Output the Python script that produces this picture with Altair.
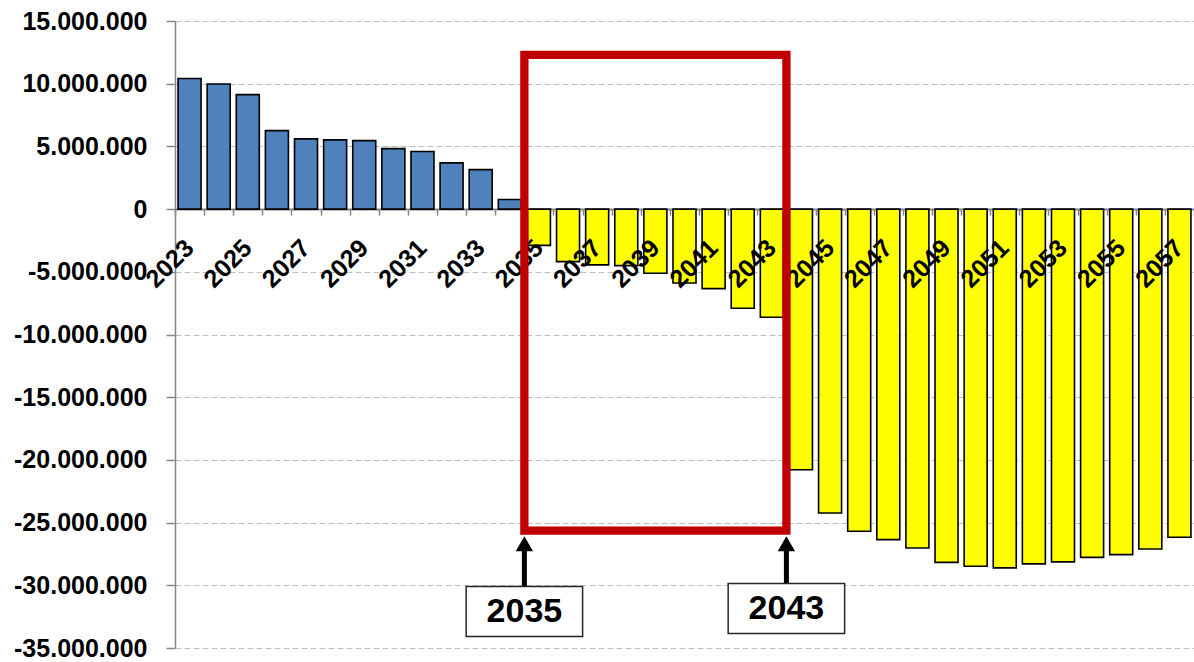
import altair as alt
import pandas as pd

# ---------------- data ----------------
years = [str(y) for y in range(2023, 2058)]
balance = [
    10410000, 9980000, 9130000, 6260000, 5600000, 5520000, 5460000, 4820000,
    4590000, 3690000, 3150000, 760000,
    -2890000, -4190000, -4450000, -4510000, -5120000, -5890000, -6340000,
    -7910000, -8630000,
    -20780000, -24230000, -25690000, -26360000, -27020000, -28170000,
    -28480000, -28610000, -28290000, -28130000, -27770000, -27550000,
    -27100000, -26170000,
]
label_years = [str(y) for y in range(2023, 2058, 2)]
y_ticks = list(range(-35000000, 15000001, 5000000))
y_min, y_max = -35000000, 15000000

# highlighted period (red frame)
frame_from = ["2035"]
frame_to = ["2043"]
frame_top = [12300000]
frame_bottom = [-25640000]

# arrows and call-out boxes
arrow_at = ["2035", "2044"]
arrow_head = [-26690000, -26690000]
arrow_shaft_top = [-27000000, -27000000]
callout_text = ["2035", "2043"]
callout_from = ["2033", "2042"]
callout_to = ["2036", "2045"]
callout_top = [-30100000, -29860000]
callout_bottom = [-34090000, -33850000]
callout_mid = [-32100000, -31860000]

# ---------------- tables ----------------
bars_df = pd.DataFrame({"year": years, "value": balance})
labels_df = pd.DataFrame({"year": label_years, "base": [0] * len(label_years)})
frame_df = pd.DataFrame({"x1": frame_from, "x2": frame_to, "top": frame_top, "bottom": frame_bottom})
arrow_df = pd.DataFrame({"x": arrow_at, "head": arrow_head, "shaft_top": arrow_shaft_top, "base": callout_top})
callout_df = pd.DataFrame({
    "text": callout_text, "x": arrow_at, "x1": callout_from, "x2": callout_to,
    "top": callout_top, "bottom": callout_bottom, "mid": callout_mid,
})

W, H = 1019, 627
FONT = "Liberation Sans"
GRAY = "#868686"

x_scale = alt.Scale(type="band", domain=years, paddingInner=0, paddingOuter=0)
y_scale = alt.Scale(domain=[y_min, y_max], nice=False, zero=False)
zero_offset = -H * (0 - y_min) / (y_max - y_min)

label_expr = "replace(replace(format(datum.value, ','), regexp(',', 'g'), '.'), '\u2212', '-')"

x_axis = alt.Axis(labels=False, ticks=True, tickBand="extent", tickSize=6,
                  tickColor=GRAY, tickWidth=1.5, domainColor=GRAY, domainWidth=2,
                  offset=zero_offset, grid=False, title=None)
y_axis = alt.Axis(values=y_ticks, labelExpr=label_expr, grid=True,
                  gridDash=[6, 3], gridColor="#BFBFBF", gridWidth=1.2,
                  domainColor=GRAY, domainWidth=1.5, tickColor=GRAY, tickWidth=1.5,
                  tickSize=9, labelPadding=19, labelFont=FONT, labelFontSize=25,
                  labelFontWeight="bold", labelColor="black", title=None)


def X(field, **kw):
    return alt.X(field, scale=x_scale, axis=x_axis, title=None, **kw)


def Y(field):
    return alt.Y(field, scale=y_scale, axis=y_axis, title=None)


bars = alt.Chart(bars_df).mark_bar(
    width=alt.RelativeBandSize(0.79), stroke="black", strokeWidth=1.6
).encode(
    x=X("year:O"),
    y=Y("value:Q"),
    color=alt.condition("datum.value >= 0", alt.value("#4F81BD"), alt.value("#FFFF00")),
)

xlabels = alt.Chart(labels_df).mark_text(
    angle=315, align="right", baseline="middle", font=FONT, fontSize=25,
    fontWeight="bold", color="black", dx=-24.7, dy=24.7,
).encode(
    x=X("year:O"),
    y=Y("base:Q"),
    text="year:N",
)

frame = alt.Chart(frame_df).mark_rect(
    fillOpacity=0, stroke="#C00000", strokeWidth=8.3
).encode(
    x=X("x1:O", bandPosition=0),
    x2=alt.X2("x2", bandPosition=1),
    y=Y("top:Q"),
    y2="bottom:Q",
)

shafts = alt.Chart(arrow_df).mark_rule(color="black", strokeWidth=5).encode(
    x=X("x:O", bandPosition=0),
    y=Y("shaft_top:Q"),
    y2="base:Q",
)

heads = alt.Chart(arrow_df).mark_point(
    shape="triangle-up", filled=True, color="black", opacity=1, size=300
).encode(
    x=X("x:O", bandPosition=0),
    y=Y("head:Q"),
)

boxes = alt.Chart(callout_df).mark_rect(
    fill="white", stroke="#262626", strokeWidth=1.5
).encode(
    x=X("x1:O", bandPosition=0),
    x2=alt.X2("x2", bandPosition=1),
    y=Y("top:Q"),
    y2="bottom:Q",
)

box_text = alt.Chart(callout_df).mark_text(
    font=FONT, fontSize=34, fontWeight="bold", color="black",
    align="center", baseline="middle",
).encode(
    x=X("x:O", bandPosition=0),
    y=Y("mid:Q"),
    text="text:N",
)

chart = alt.layer(bars, xlabels, frame, shafts, heads, boxes, box_text).properties(
    width=W, height=H,
    autosize=alt.AutoSizeParams(type="none"),
    padding={"left": 175, "top": 21, "right": 0, "bottom": 14},
    background="white",
).configure_view(stroke=None)

chart.save("out.html", embed_options={"renderer": "svg", "actions": False})
